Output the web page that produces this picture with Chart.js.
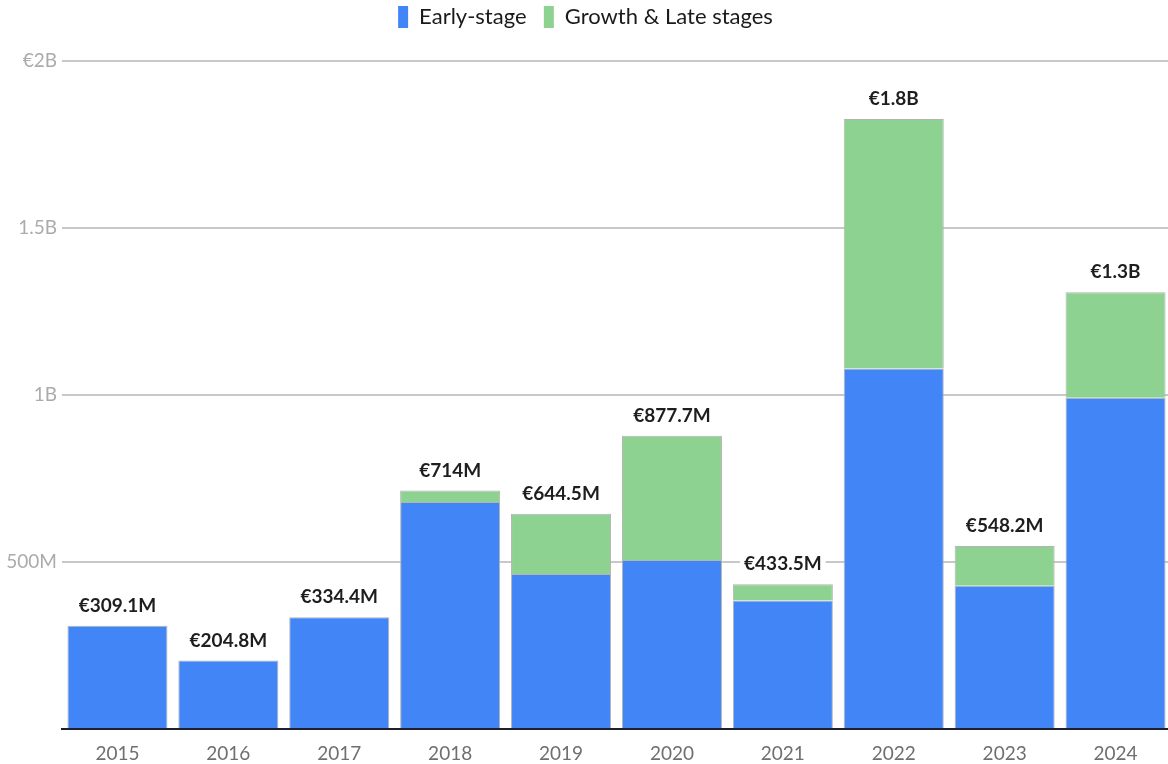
<!DOCTYPE html>
<html>
<head>
<meta charset="utf-8">
<script src="https://cdn.jsdelivr.net/npm/chart.js@4/dist/chart.umd.min.js"></script>
<style>
  html, body { margin: 0; padding: 0; background: #fff; overflow: hidden; }
  #wrap { width: 1171px; height: 764px; position: relative; }
</style>
</head>
<body>
<div id="wrap"><canvas id="c"></canvas></div>
<script>
// Investment volume per year, in millions of euros
const years = ['2015', '2016', '2017', '2018', '2019', '2020', '2021', '2022', '2023', '2024'];
const earlyStage = [309.1, 204.8, 334.4, 680, 464, 506, 385, 1079, 429, 992];
const growthLate = [0, 0, 0, 34, 180.5, 371.7, 48.5, 747, 119.2, 316];
const yTicks = [0, 500, 1000, 1500, 2000];

const FONT = 'Lato, "Noto Sans", sans-serif';

function formatTotal(v) {
  if (v >= 1000) return '€' + parseFloat((v / 1000).toFixed(1)) + 'B';
  return '€' + parseFloat(v.toFixed(1)) + 'M';
}
function formatTick(v) {
  if (v === 0) return '';
  const s = v >= 1000 ? parseFloat((v / 1000).toFixed(1)) + 'B' : v + 'M';
  return v === yTicks[yTicks.length - 1] ? '€' + s : s;
}

// Extra room between the legend and the plot
const legendGap = {
  id: 'legendGap',
  beforeInit(chart) {
    const fit = chart.legend.fit;
    chart.legend.fit = function () {
      fit.bind(chart.legend)();
      this.height += 23;
    };
  }
};

// Stack totals written above each column on a white backing box
const totalLabels = {
  id: 'totalLabels',
  afterDatasetsDraw(chart) {
    const { ctx, scales: { y } } = chart;
    const meta = chart.getDatasetMeta(chart.data.datasets.length - 1);
    ctx.save();
    ctx.font = 'bold 19px ' + FONT;
    ctx.textAlign = 'center';
    ctx.textBaseline = 'middle';
    years.forEach((_, i) => {
      const total = chart.data.datasets.reduce((s, d) => s + (d.data[i] || 0), 0);
      const x = meta.data[i].x;
      const yy = y.getPixelForValue(total) - 21;
      const txt = formatTotal(total);
      const w = ctx.measureText(txt).width;
      ctx.fillStyle = '#fff';
      ctx.fillRect(x - w / 2 - 4, yy - 12, w + 8, 24);
      ctx.fillStyle = '#1e1e1e';
      ctx.fillText(txt, x, yy + 1);
    });
    ctx.restore();
  }
};

new Chart(document.getElementById('c'), {
  type: 'bar',
  data: {
    labels: years,
    datasets: [
      {
        label: 'Early-stage',
        data: earlyStage,
        backgroundColor: '#4285f7',
        borderColor: '#b4b4b4',
        borderWidth: ctx => (ctx.raw ? 1 : 0),
        borderSkipped: 'bottom'
      },
      {
        label: 'Growth & Late stages',
        data: growthLate,
        backgroundColor: '#8dd290',
        borderColor: '#b4b4b4',
        borderWidth: ctx => (ctx.raw ? 1 : 0),
        borderSkipped: 'bottom'
      }
    ]
  },
  options: {
    responsive: true,
    maintainAspectRatio: false,
    animation: false,
    layout: { padding: 0 },
    datasets: { bar: { barPercentage: 0.902, categoryPercentage: 1 } },
    plugins: {
      legend: {
        position: 'top',
        labels: {
          boxWidth: 10,
          boxHeight: 22,
          padding: 6,
          color: '#1a1a1a',
          font: { family: FONT, size: 22 },
          generateLabels(chart) {
            const items = Chart.defaults.plugins.legend.labels.generateLabels(chart);
            // widen the gap after every entry but the last
            items.forEach((it, i) => { if (i < items.length - 1) it.text += '  '; it.lineWidth = 0; });
            return items;
          }
        }
      },
      tooltip: { enabled: false }
    },
    scales: {
      x: {
        stacked: true,
        grid: { display: false },
        border: { display: true, color: '#1b1f2e', width: 2 },
        afterFit(scale) { scale.height = 35; },
        ticks: { color: '#6f6f6f', font: { family: FONT, size: 19 }, padding: 5 }
      },
      y: {
        stacked: true,
        min: 0,
        max: 2000,
        afterFit(scale) { scale.width = 62; },
        afterBuildTicks(scale) { scale.ticks = yTicks.map(v => ({ value: v })); },
        border: { display: false },
        grid: {
          color: ctx => (ctx.tick && ctx.tick.value === 0 ? 'rgba(0,0,0,0)' : '#c8c8c8'),
          lineWidth: 2,
          drawTicks: false
        },
        ticks: {
          color: '#ababab',
          font: { family: FONT, size: 19 },
          padding: 5,
          callback: v => formatTick(v)
        }
      }
    }
  },
  plugins: [legendGap, totalLabels]
});
</script>
</body>
</html>
